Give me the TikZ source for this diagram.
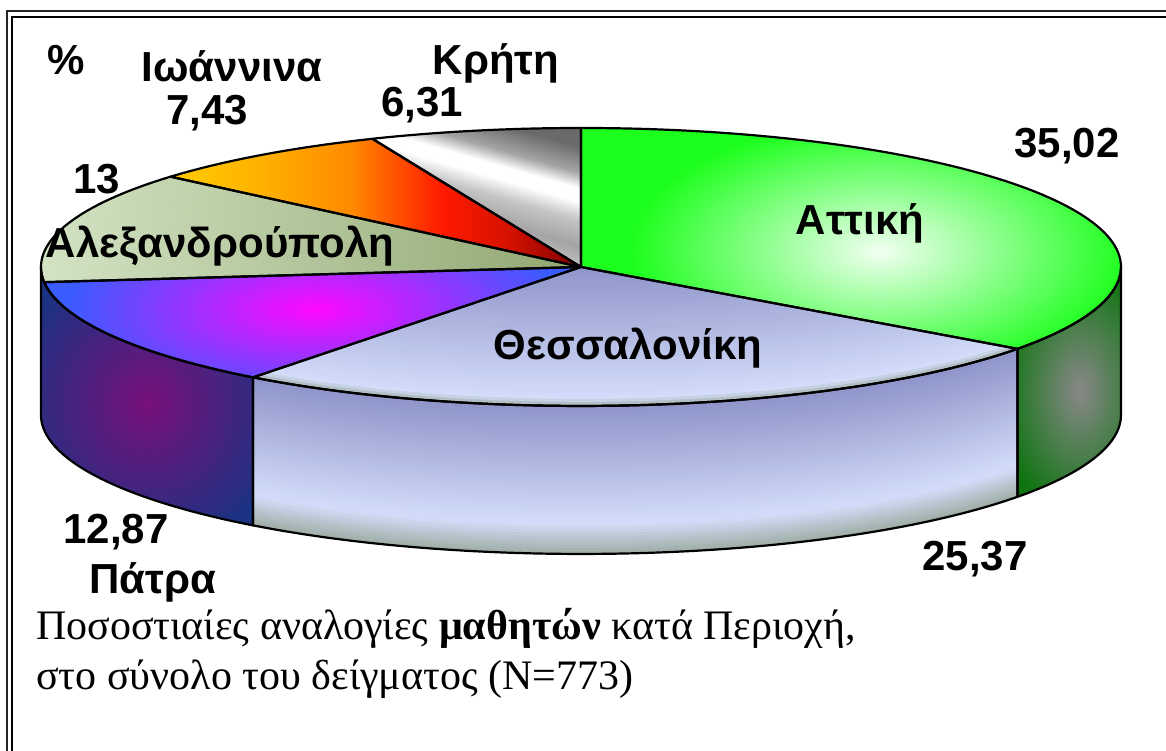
\documentclass[tikz,border=0pt]{standalone}
\usepackage{fontspec}
\setmainfont{Liberation Serif}
\setsansfont{Liberation Sans}
\usetikzlibrary{patterns}

\definecolor{attG}{HTML}{1CFF1C}
\definecolor{attW}{HTML}{F2FFF2}
\definecolor{attS}{HTML}{0E7410}
\definecolor{attH}{HTML}{888888}
\definecolor{thA}{HTML}{8E94C9}
\definecolor{thB}{HTML}{D3DDFA}
\definecolor{thC}{HTML}{9EAEA6}
\definecolor{paB}{HTML}{3A5CFF}
\definecolor{paM}{HTML}{FF08FF}
\definecolor{paN}{HTML}{1C3282}
\definecolor{paP}{HTML}{78107C}
\definecolor{alL}{HTML}{DEE8CF}
\definecolor{alM}{HTML}{C9D6B2}
\definecolor{alR}{HTML}{98A876}
\definecolor{ioY}{HTML}{FFCC00}
\definecolor{ioO}{HTML}{FF8A00}
\definecolor{ioR}{HTML}{FF1A00}
\definecolor{ioD}{HTML}{7A0000}
\definecolor{krD}{HTML}{6A6A6A}
\definecolor{krG}{HTML}{A4A4A4}
\definecolor{krL}{HTML}{C4C4C4}

\pgfdeclarehorizontalshading{ioanshade}{100bp}{color(0bp)=(ioY); color(25bp)=(ioY); color(36bp)=(ioY!60!ioO); color(47bp)=(ioO); color(58bp)=(ioR); color(66bp)=(ioR!70!ioD); color(75bp)=(ioD); color(100bp)=(ioD)}
\pgfdeclareverticalshading{kritishade}{100bp}{color(0bp)=(krG); color(25bp)=(krG); color(33bp)=(white); color(37bp)=(krL); color(44bp)=(krG); color(52bp)=(krL); color(58bp)=(white); color(62bp)=(white); color(67bp)=(krG); color(75bp)=(krD); color(100bp)=(krD)}

\tikzset{
  lbl/.style={font=\sffamily\bfseries\fontsize{42}{48}\selectfont, inner sep=0pt, anchor=base},
  capt/.style={font=\fontsize{42}{50}\selectfont, inner sep=0pt, anchor=base west},
  slcline/.style={draw=black, line width=2.2pt, line join=round},
  attTopP/.style={insert path={(581,484) -- (581,623) arc[start angle=90,end angle=-36.07,x radius=540,y radius=139] -- cycle}},
  thTopP/.style={insert path={(581,484) -- (1017.5,402.2) arc[start angle=-36.07,end angle=-127.4,x radius=540,y radius=139] -- cycle}},
  paTopP/.style={insert path={(581,484) -- (253,373.6) arc[start angle=-127.4,end angle=-173.73,x radius=540,y radius=139] -- cycle}},
  alTopP/.style={insert path={(581,484) -- (44.2,468.8) arc[start angle=-173.73,end angle=-220.53,x radius=540,y radius=139] -- cycle}},
  ioTopP/.style={insert path={(581,484) -- (170.5,574.3) arc[start angle=-220.53,end angle=-247.28,x radius=540,y radius=139] -- cycle}},
  krTopP/.style={insert path={(581,484) -- (372.4,612.2) arc[start angle=-247.28,end angle=-270,x radius=540,y radius=139] -- cycle}},
  attSideP/.style={insert path={(1121,484) arc[start angle=0,end angle=-36.07,x radius=540,y radius=139] -- ++(0,-148) arc[start angle=-36.07,end angle=0,x radius=540,y radius=139] -- cycle}},
  thSideP/.style={insert path={(1017.5,402.2) arc[start angle=-36.07,end angle=-127.4,x radius=540,y radius=139] -- ++(0,-148) arc[start angle=-127.4,end angle=-36.07,x radius=540,y radius=139] -- cycle}},
  paSideP/.style={insert path={(253,373.6) arc[start angle=-127.4,end angle=-180,x radius=540,y radius=139] -- ++(0,-148) arc[start angle=-180,end angle=-127.4,x radius=540,y radius=139] -- cycle}},
}

\begin{document}
\begin{tikzpicture}[x=1pt,y=1pt]
\useasboundingbox (0,0) rectangle (1166,751);
\fill[white] (0,0) rectangle (1166,751);

% frame
\draw[line width=2pt, black!85] (7,-20) -- (7,740) -- (1200,740);
\draw[line width=2.4pt, black] (12,-20) -- (12,734) -- (1200,734);

% ---- side faces ----
% Attiki side
\fill[attS, attSideP];
\begin{scope}
  \clip[attSideP];
  \shade[inner color=attH, outer color=attS] (1080,360) ellipse [x radius=80, y radius=130];
\end{scope}
% Thessaloniki side
\fill[thA, thSideP];
\begin{scope}
  \clip[thSideP];
  \foreach \d in {0,3,...,150} {
    \pgfmathsetmacro{\pp}{min(100,\d/118*100)}
    \pgfmathsetmacro{\qq}{max(0,(\d-118)/30*100)}
    \colorlet{bandA}{thB!\pp!thA}
    \colorlet{bandc}{thC!\qq!bandA}
    \draw[line width=3.8pt, bandc] ({581+540*cos(-25)},{484-\d+139*sin(-25)}) arc[start angle=-25,end angle=-140,x radius=540,y radius=139];
  }
\end{scope}
% Patra side
\fill[paN, paSideP];
\begin{scope}
  \clip[paSideP];
  \shade[inner color=paP, outer color=paN] (148,348) ellipse [x radius=140, y radius=150];
\end{scope}

% ---- top faces ----
% Attiki
\fill[attG, attTopP];
\begin{scope}
  \clip[attTopP];
  \shade[inner color=attW, outer color=attG] (880,500) ellipse [x radius=250, y radius=130];
\end{scope}
% Thessaloniki
\fill[thA, thTopP];
\begin{scope}
  \clip[thTopP];
  \foreach \d in {0,3,...,150} {
    \pgfmathsetmacro{\pp}{max(0,min(100,(\d-8)/132*100))}
    \pgfmathsetmacro{\qq}{max(0,(8-\d)/8*100)}
    \colorlet{bandA}{thA!\pp!thB}
    \colorlet{bandc}{thC!\qq!bandA}
    \draw[line width=3.8pt, bandc] ({581+540*cos(-25)},{484+\d+139*sin(-25)}) arc[start angle=-25,end angle=-140,x radius=540,y radius=139];
  }
\end{scope}
% Patra
\fill[paB, paTopP];
\begin{scope}
  \clip[paTopP];
  \shade[inner color=paM, outer color=paB] (315,442) ellipse [x radius=250, y radius=95];
\end{scope}
% Alexandroupoli
\shade[left color=alL, middle color=alM, right color=alR, alTopP];
\fill[pattern=north east lines, pattern color=black!40!green, opacity=0.12, alTopP];
% Ioannina
\shade[shading=ioanshade, ioTopP];
% Kriti
\shade[shading=kritishade, shading angle=-16, krTopP];

% ---- outlines ----
\path[slcline, attSideP];
\path[slcline, thSideP];
\path[slcline, paSideP];
\path[slcline, attTopP];
\path[slcline, thTopP];
\path[slcline, paTopP];
\path[slcline, alTopP];
\path[slcline, ioTopP];
\path[slcline, krTopP];

% ---- labels ----
\node[lbl] (pct) at (66,676) {\%};
\node[lbl] (ioname) at (232,669) {Ιωάννινα};
\node[lbl] (ioval) at (207,626) {7,43};
\node[lbl] (krname) at (496,676) {Κρήτη};
\node[lbl] (krval) at (422,634) {6,31};
\node[lbl] (attval) at (1067,593) {35,02};
\node[lbl] (alval) at (97,557) {13};
\node[lbl] (alname) at (220,493) {Αλεξανδρούπολη};
\node[lbl] (attname) at (860,516) {Αττική};
\node[lbl] (thname) at (628,391) {Θεσσαλονίκη};
\node[lbl] (paval) at (116,207) {12,87};
\node[lbl] (paname) at (153,157) {Πάτρα};
\node[lbl] (thval) at (975,180) {25,37};

% ---- caption ----
\node[capt] (cap1) at (36,111) {Ποσοστιαίες αναλογίες \textbf{μαθητών} κατά Περιοχή,};
\node[capt] (cap2) at (36,61) {στο σύνολο του δείγματος (N=773)};
\end{tikzpicture}
\end{document}
